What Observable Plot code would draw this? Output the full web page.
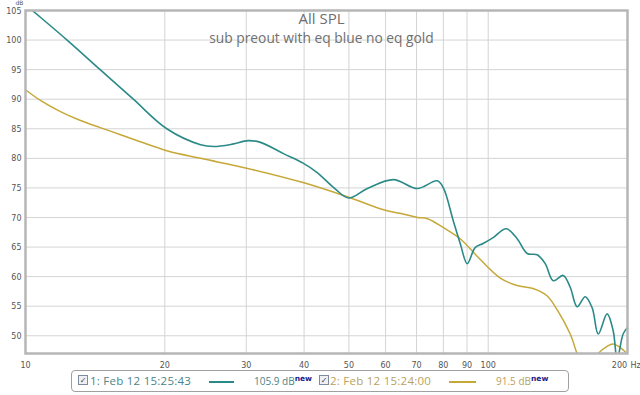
<!DOCTYPE html>
<html>
<head>
<meta charset="utf-8">
<script src="https://cdn.jsdelivr.net/npm/d3@7"></script>
<script src="https://cdn.jsdelivr.net/npm/@observablehq/plot@0.6"></script>
<style>
  html, body { margin: 0; padding: 0; background: #fff; }
  #wrap { position: relative; width: 640px; height: 395px; overflow: hidden; }
  #legend {
    position: absolute; left: 71px; top: 370px; width: 496px; height: 20px;
    border: 1px solid #a0a0a0; border-radius: 4px; background: #fff;
    font-family: "Open Sans", "DejaVu Sans", sans-serif; font-size: 10px;
  }
  #legend span { position: absolute; top: 3px; white-space: nowrap; }
  .date { font-size: 11.5px; letter-spacing: 0.25px; top: 2px !important; }
  .cb {
    position: absolute; top: 4px; width: 8px; height: 8px;
    border: 1px solid #7d8aa0; background: #eef0f4;
    font-size: 8px; line-height: 8px; text-align: center; color: #445;
  }
  .ln { position: absolute; top: 10px; height: 2px; }
  sup { font-weight: bold; color: #1c1c8a; font-size: 7.5px; font-family: "DejaVu Sans", sans-serif; }
</style>
</head>
<body>
<div id="wrap"></div>
<script>
// Series 1: with EQ (teal)
const freqWithEq = [10, 10.35, 12.3, 14.5, 17.1, 20.2, 23.9, 25.5, 28, 30.3, 32.2, 36.1, 39.8, 42.7, 46.3, 49.9,
  54.8, 62.4, 70.3, 77.6, 80.0, 84.0, 87.0, 90.1, 93.7, 97.5, 102.5, 109.4, 115.5, 121.4, 127.6, 132.8, 138.2,
  145.2, 150.4, 155.7, 162.0, 167.8, 172.9, 180.7, 186.2, 190.0, 195.7, 200];
const dbWithEq = [106.0, 105.0, 100.0, 95.0, 90.0, 85.0, 82.3, 82.0, 82.4, 83.0, 82.7, 80.8, 79.2, 77.6, 75.1, 73.3,
  74.9, 76.4, 74.9, 76.2, 75.0, 69.5, 65.6, 62.2, 64.9, 65.6, 66.6, 68.1, 66.4, 63.9, 63.7, 62.2, 59.3,
  60.2, 58.2, 54.9, 56.6, 54.7, 50.3, 53.7, 50.9, 46.1, 50.3, 51.4];
// Series 2: no EQ (gold)
const freqNoEq = [10, 10.77, 11.9, 13.15, 14.5, 16.05, 17.7, 20.2, 23.9, 30.2, 39.8, 49.6, 59.4, 64.5, 70.3, 73.9,
  80.0, 87.0, 94.5, 106.4, 115.5, 125.0, 133.8, 141.4, 150.4, 158.2, 165.6, 172.9, 180.7, 186.0, 193.0, 200];
const dbNoEq = [91.6, 89.8, 87.9, 86.4, 85.2, 84.0, 82.8, 81.3, 80.0, 78.3, 75.9, 73.5, 71.3, 70.7, 70.0, 69.8,
  68.3, 66.4, 63.5, 59.7, 58.5, 58.0, 56.8, 54.2, 50.3, 45.8, 44.5, 47.0, 48.2, 48.6, 48.0, 46.9];

const xTicks = [10, 20, 30, 40, 50, 60, 70, 80, 90, 100];
const xTickEnd = [200];
const yTicks = [50, 55, 60, 65, 70, 75, 80, 85, 90, 95, 100, 105];

const seriesColors = ["#2b8a88", "#c6a838"];

const withEq = freqWithEq.map((f, i) => ({f, db: dbWithEq[i]}));
const noEq = freqNoEq.map((f, i) => ({f, db: dbNoEq[i]}));

const tickFont = "DejaVu Sans, sans-serif";

const chart = Plot.plot({
  width: 640,
  height: 372,
  marginLeft: 25,
  marginRight: 13,
  marginTop: 10,
  marginBottom: 19,
  style: {background: "#fff", fontFamily: tickFont},
  x: {type: "log", domain: [10, 200], axis: null},
  y: {domain: [47, 105], axis: null},
  marks: [
    Plot.ruleX([...xTicks, ...xTickEnd], {x: d => d, stroke: "#d4d4d4"}),
    Plot.ruleY(yTicks, {y: d => d, stroke: "#d4d4d4"}),
    Plot.text(yTicks, {y: d => d, text: d => String(d), frameAnchor: "left", textAnchor: "end", dx: -4, dy: 0.5, fontSize: 8, fill: "#555"}),
    Plot.text(xTicks, {x: d => d, text: d => String(d), frameAnchor: "bottom", lineAnchor: "top", dy: 9, fontSize: 8, fill: "#555"}),
    Plot.text(xTickEnd, {x: d => d, text: d => String(d), frameAnchor: "bottom", lineAnchor: "top", dx: -8, dy: 9, fontSize: 8, fill: "#555"}),
    Plot.text(["Hz"], {frameAnchor: "bottom-right", textAnchor: "start", lineAnchor: "top", dx: 3, dy: 9, fontSize: 8, fill: "#555"}),
    Plot.text(["dB"], {frameAnchor: "top-left", textAnchor: "start", lineAnchor: "top", dx: -10, dy: -10, fontSize: 6, fill: "#555"}),
    Plot.text(["All SPL"], {frameAnchor: "top", lineAnchor: "bottom", dx: -5, dy: 13.5, fontSize: 15, fill: "#6f6f6f", fontFamily: "Open Sans, sans-serif"}),
    Plot.text(["sub preout with eq blue no eq gold"], {frameAnchor: "top", lineAnchor: "bottom", dx: -5, dy: 32, fontSize: 13.8, fill: "#6f6f6f", fontFamily: "Open Sans, sans-serif"}),
    Plot.line(noEq, {x: "f", y: "db", stroke: seriesColors[1], strokeWidth: 1.5, curve: "catmull-rom", clip: true}),
    Plot.line(withEq, {x: "f", y: "db", stroke: seriesColors[0], strokeWidth: 1.6, curve: "catmull-rom", clip: true}),
    Plot.frame({stroke: "#b6b6b6", strokeWidth: 2.5})
  ]
});

const wrap = document.getElementById("wrap");
wrap.appendChild(chart);

const legend = document.createElement("div");
legend.id = "legend";
legend.innerHTML = `
  <div class="cb" style="left:6px">✓</div>
  <span class="date" style="left:18px;color:#4a8589">1: Feb 12 15:25:43</span>
  <div class="ln" style="left:137px;width:25px;background:${seriesColors[0]}"></div>
  <span style="left:182px;color:#4a8589">105.9 dB<sup>new</sup></span>
  <div class="cb" style="left:247px">✓</div>
  <span class="date" style="left:258px;color:#b8a25e">2: Feb 12 15:24:00</span>
  <div class="ln" style="left:377px;width:27px;background:${seriesColors[1]}"></div>
  <span style="left:424px;color:#b8a25e">91.5 dB<sup>new</sup></span>
`;
wrap.appendChild(legend);
</script>
</body>
</html>
